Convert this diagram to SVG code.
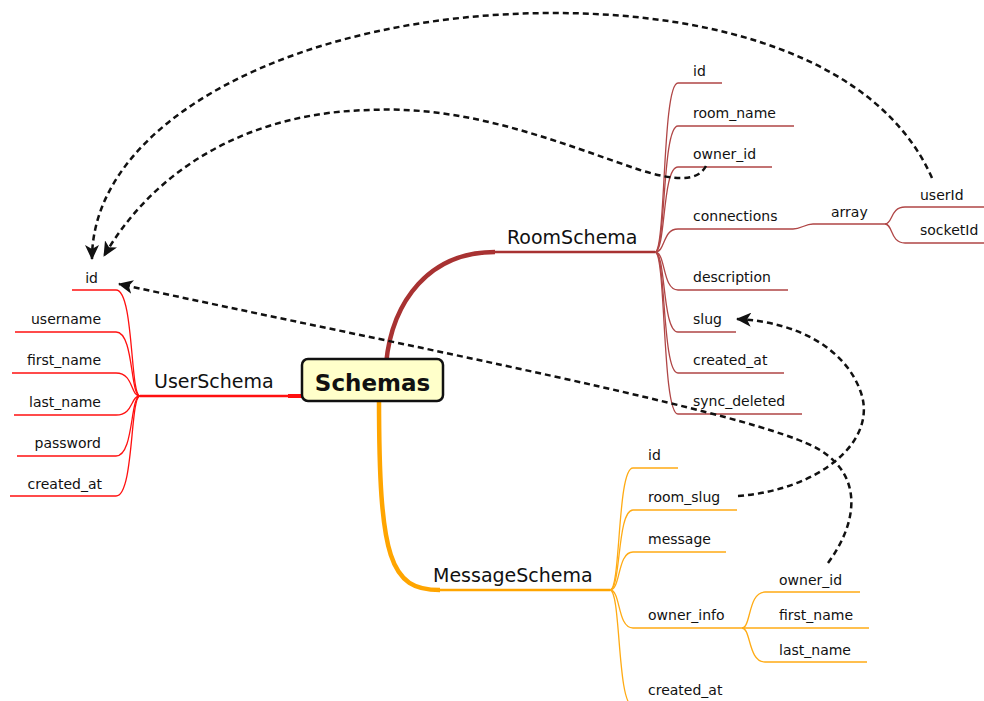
<svg xmlns="http://www.w3.org/2000/svg" width="984" height="701" viewBox="0 0 984 701">
  <style>
    .leaf { font-family: "DejaVu Sans", "Liberation Sans", sans-serif; font-size: 14px; fill: #111; }
    .branch { font-family: "DejaVu Sans", "Liberation Sans", sans-serif; font-size: 19px; fill: #111; }
    .root { font-family: "DejaVu Sans", "Liberation Sans", sans-serif; font-size: 23px; font-weight: bold; fill: #111; }
    .end { text-anchor: end; }
    .user { fill: none; stroke: #ff1010; stroke-width: 1.3; }
    .user-main { fill: none; stroke: #ff1010; stroke-width: 2.6; }
    .room { fill: none; stroke: #b04646; stroke-width: 1.3; }
    .room-main { fill: none; stroke: #a83232; stroke-width: 2.6; }
    .msg { fill: none; stroke: #ffab14; stroke-width: 1.3; }
    .msg-main { fill: none; stroke: #ffa500; stroke-width: 2.6; }
    .link { fill: none; stroke: #111; stroke-width: 2.5; stroke-dasharray: 6 4; }
  </style>
  <defs>
    <marker id="arrow" markerUnits="userSpaceOnUse" markerWidth="16" markerHeight="14" refX="14" refY="7" orient="auto">
      <path d="M0,0 L15,7 L0,14 L4,7 Z" fill="#111"/>
    </marker>
  </defs>

  <!-- UserSchema branch -->
  <g id="user-schema">
    <path class="user-main" d="M140,396 H303"/>
    <path d="M288,396 H304" fill="none" stroke="#ff1010" stroke-width="4"/>
    <text class="branch" x="154" y="388">UserSchema</text>
  </g>
  <g id="user-id">
    <path class="user" d="M140,396 C130,396 134,290 116,290 H72"/>
    <text class="leaf end" x="98" y="283">id</text>
  </g>
  <g id="user-username">
    <path class="user" d="M140,396 C130,396 134,332 116,332 H15"/>
    <text class="leaf end" x="101" y="324">username</text>
  </g>
  <g id="user-first-name">
    <path class="user" d="M140,396 C130,396 134,373 116,373 H12"/>
    <text class="leaf end" x="101" y="365">first_name</text>
  </g>
  <g id="user-last-name">
    <path class="user" d="M140,396 C130,396 134,415 116,415 H14"/>
    <text class="leaf end" x="101" y="407">last_name</text>
  </g>
  <g id="user-password">
    <path class="user" d="M140,396 C130,396 134,456 116,456 H17"/>
    <text class="leaf end" x="101" y="448">password</text>
  </g>
  <g id="user-created-at">
    <path class="user" d="M140,396 C130,396 134,496 116,496 H10"/>
    <text class="leaf end" x="102" y="489">created_at</text>
  </g>

  <!-- RoomSchema branch -->
  <g id="room-schema">
    <path d="M386,364 C392,300 430,252 495,252" fill="none" stroke="#a83232" stroke-width="4.5"/>
    <path class="room-main" d="M493,252 H655"/>
    <text class="branch" x="507" y="244">RoomSchema</text>
  </g>
  <g id="room-id">
    <path class="room" d="M655,252 C666,252 662,83 678,83 H722"/>
    <text class="leaf" x="693" y="76">id</text>
  </g>
  <g id="room-name">
    <path class="room" d="M655,252 C666,252 662,126 678,126 H794"/>
    <text class="leaf" x="693" y="118">room_name</text>
  </g>
  <g id="room-owner-id">
    <path class="room" d="M655,252 C666,252 662,167 678,167 H772"/>
    <text class="leaf" x="693" y="159">owner_id</text>
  </g>
  <g id="room-connections">
    <path class="room" d="M655,252 C666,252 662,229 678,229 H793 C801,229 805,224 813,224 H885"/>
    <text class="leaf" x="693" y="221">connections</text>
  </g>
  <g id="room-array">
    <text class="leaf" x="831" y="217">array</text>
  </g>
  <g id="room-user-id">
    <path class="room" d="M885,224 C893,224 890,207 905,207 H984"/>
    <text class="leaf" x="920" y="200">userId</text>
  </g>
  <g id="room-socket-id">
    <path class="room" d="M885,224 C893,224 890,243 905,243 H984"/>
    <text class="leaf" x="920" y="235">socketId</text>
  </g>
  <g id="room-description">
    <path class="room" d="M655,252 C666,252 662,290 678,290 H788"/>
    <text class="leaf" x="693" y="282">description</text>
  </g>
  <g id="room-slug">
    <path class="room" d="M655,252 C666,252 662,332 678,332 H736"/>
    <text class="leaf" x="693" y="324">slug</text>
  </g>
  <g id="room-created-at">
    <path class="room" d="M655,252 C666,252 662,373 678,373 H784"/>
    <text class="leaf" x="693" y="365">created_at</text>
  </g>
  <g id="room-sync-deleted">
    <path class="room" d="M655,252 C666,252 662,414 678,414 H802"/>
    <text class="leaf" x="693" y="406">sync_deleted</text>
  </g>

  <!-- MessageSchema branch -->
  <g id="message-schema">
    <path d="M379,398 C379,560 390,590 440,590" fill="none" stroke="#ffa500" stroke-width="4.5"/>
    <path class="msg-main" d="M438,590 H610"/>
    <text class="branch" x="433" y="582">MessageSchema</text>
  </g>
  <g id="message-id">
    <path class="msg" d="M610,590 C621,590 617,468 633,468 H678"/>
    <text class="leaf" x="648" y="460">id</text>
  </g>
  <g id="message-room-slug">
    <path class="msg" d="M610,590 C621,590 617,510 633,510 H737"/>
    <text class="leaf" x="648" y="502">room_slug</text>
  </g>
  <g id="message-text">
    <path class="msg" d="M610,590 C621,590 617,552 633,552 H726"/>
    <text class="leaf" x="648" y="544">message</text>
  </g>
  <g id="message-owner-info">
    <path class="msg" d="M610,590 C621,590 617,628 633,628 H742"/>
    <text class="leaf" x="648" y="620">owner_info</text>
  </g>
  <g id="message-owner-id">
    <path class="msg" d="M742,628 C751,628 748,592 765,592 H860"/>
    <text class="leaf" x="779" y="585">owner_id</text>
  </g>
  <g id="message-first-name">
    <path class="msg" d="M742,628 H869"/>
    <text class="leaf" x="779" y="620">first_name</text>
  </g>
  <g id="message-last-name">
    <path class="msg" d="M742,628 C751,628 748,662 765,662 H867"/>
    <text class="leaf" x="779" y="655">last_name</text>
  </g>
  <g id="message-created-at">
    <path class="msg" d="M610,590 C621,590 617,706 633,706 H740"/>
    <text class="leaf" x="648" y="695">created_at</text>
  </g>

  <!-- central topic -->
  <g id="schemas">
    <rect x="302" y="359" width="141" height="42" rx="6" fill="#ffffca" stroke="#111" stroke-width="2.5"/>
    <text class="root" x="372.5" y="391" text-anchor="middle">Schemas</text>
  </g>

  <!-- reference links -->
  <g id="connectors">
    <path class="link" marker-end="url(#arrow)" d="M932,178 C880,60 720,13 554,13 C300,13 92,120 92,259"/>
    <path class="link" marker-end="url(#arrow)" d="M706,166 C697,183 672,180 640,170 C560,143 470,105 370,110 C260,112 160,160 104,256"/>
    <path class="link" marker-end="url(#arrow)" d="M828,563 C856,525 865,478 820,450 C760,413 400,345 119,284"/>
    <path class="link" marker-end="url(#arrow)" d="M738,496 C820,490 880,440 860,390 C845,350 800,322 737,319"/>
  </g>
</svg>
